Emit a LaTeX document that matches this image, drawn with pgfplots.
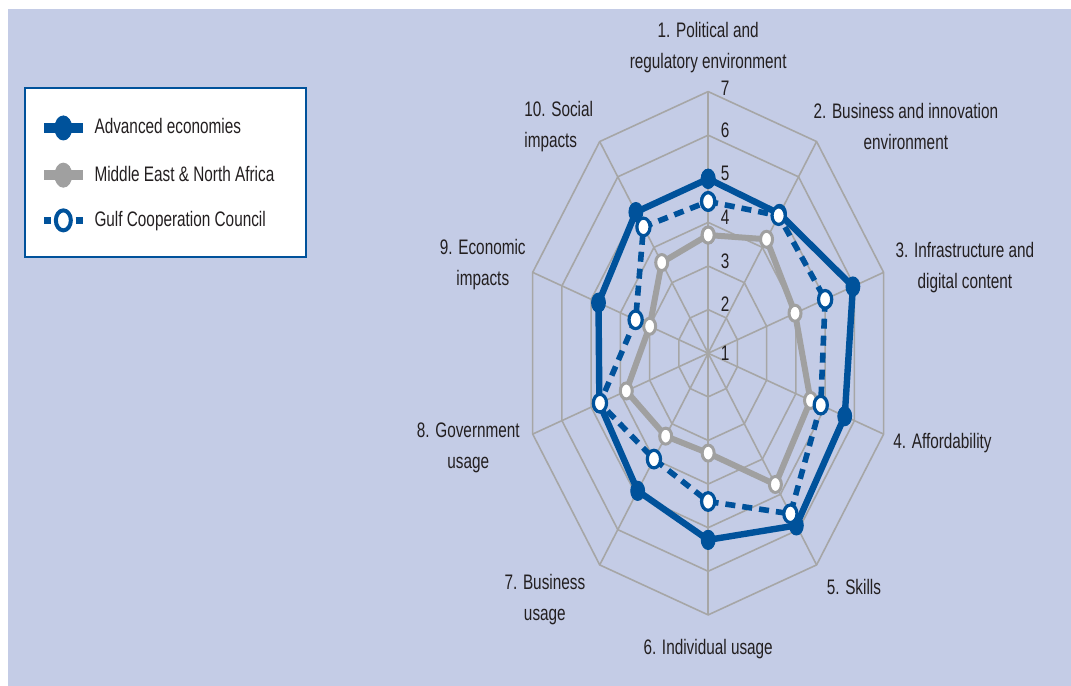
\documentclass[border=0pt]{standalone}
\usepackage{fontspec}
\setmainfont{Liberation Sans}[FakeStretch=0.73]
\usepackage{pgfplots}
\usepackage{pgfplotstable}
\pgfplotsset{compat=1.18}
\definecolor{bgblue}{RGB}{196,204,230}
\definecolor{aeblue}{RGB}{0,82,155}
\definecolor{menagray}{RGB}{160,160,160}
\definecolor{gridgray}{RGB}{166,166,166}
\definecolor{txt}{RGB}{35,31,32}

% angle (deg), scores on the 1-7 scale
\pgfplotstableread{
ang ae mena gcc
90 5.00 3.71 4.48
54 4.95 4.23 4.90
18 5.95 3.97 5.00
-18 5.67 4.50 4.85
-54 5.88 4.72 5.55
-90 5.28 3.29 4.40
-126 4.90 3.35 4.00
-162 4.72 3.80 4.70
-198 4.75 3.00 3.48
-234 5.00 3.57 4.58
-270 5.00 3.71 4.48
}\scores

\newcommand{\lbl}{\fontsize{10.5}{15.5}\selectfont}

\begin{document}
\begin{tikzpicture}
\begin{axis}[
  scale only axis, width=535.5pt, height=343pt,
  xmin=-23.03, xmax=11.80, ymin=-7.63, ymax=8.10,
  hide axis, clip=false,
  legend cell align=left,
  legend image code/.code={\draw[mark repeat=2,mark phase=2,#1] plot coordinates {(0pt,0pt)(9.6pt,0pt)(19.2pt,0pt)};},
  legend style={at={(axis cs:-21.77,5.45)}, anchor=north west, draw=none, fill=none,
    inner sep=0pt, row sep=11.6pt, font=\lbl, text=txt,
    nodes={inner sep=0pt},
    /tikz/every odd column/.append style={column sep=3.5pt},
    /tikz/every even column/.append style={text height=7.5pt, text depth=6.5pt}},
]
\fill[white] (rel axis cs:0,0) rectangle (rel axis cs:1,1);
\fill[bgblue] (rel axis cs:0.00747,0) rectangle (rel axis cs:1,0.98688);
\draw[aeblue, line width=1.3pt, fill=white] (axis cs:-22.22,6.085) rectangle (axis cs:-13.08,2.21);

% grid
\pgfplotsinvokeforeach{1,2,3,4,5,6}{
  \addplot[gridgray, line width=0.8pt, data cs=polar, forget plot] coordinates {(90,#1)(54,#1)(18,#1)(-18,#1)(-54,#1)(-90,#1)(-126,#1)(-162,#1)(-198,#1)(-234,#1)(-270,#1)};
}
\pgfplotsinvokeforeach{90,54,18,-18,-54,-90,-126,-162,-198,-234}{
  \addplot[gridgray, line width=0.8pt, data cs=polar, forget plot] coordinates {(#1,0)(#1,6)};
}

% series
\addplot[menagray, line width=3pt, data cs=polar, forget plot, mark=*, mark size=4pt,
  mark options={fill=white, draw=menagray, line width=1.5pt, xscale=0.75}]
  table[x=ang, y expr=\thisrow{mena}-1]{\scores};
\addplot[aeblue, line width=3.2pt, data cs=polar, forget plot, mark=*, mark size=4.8pt,
  mark options={fill=aeblue, draw=aeblue, line width=0.5pt, xscale=0.72}]
  table[x=ang, y expr=\thisrow{ae}-1]{\scores};
\addplot[aeblue, line width=2.8pt, dash pattern=on 5pt off 3.5pt, data cs=polar, forget plot, mark=*, mark size=4.4pt,
  mark options={fill=white, draw=aeblue, line width=1.6pt, solid, xscale=0.75}]
  table[x=ang, y expr=\thisrow{gcc}-1]{\scores};

% legend
\addlegendimage{aeblue, line width=5pt, mark=*, mark size=6pt, mark options={fill=aeblue, draw=aeblue, line width=0.5pt, xscale=0.7}}
\addlegendentry{Advanced economies}
\addlegendimage{menagray, line width=5pt, mark=*, mark size=6pt, mark options={fill=menagray, draw=menagray, line width=0.5pt, xscale=0.7}}
\addlegendentry{Middle East \& North Africa}
\addlegendimage{aeblue, line width=3.8pt, dash pattern=on 3.5pt off 12.2pt, mark=*, mark size=5pt, mark options={fill=white, draw=aeblue, line width=2pt, solid, xscale=0.75}}
\addlegendentry{Gulf Cooperation Council}

% scale numbers
\node[anchor=base west, inner sep=0pt, font=\lbl, text=txt] at (axis cs:0.40,-0.16) {1};
\node[anchor=base west, inner sep=0pt, font=\lbl, text=txt] at (axis cs:0.40,0.95) {2};
\node[anchor=base west, inner sep=0pt, font=\lbl, text=txt] at (axis cs:0.40,1.95) {3};
\node[anchor=base west, inner sep=0pt, font=\lbl, text=txt] at (axis cs:0.40,2.95) {4};
\node[anchor=base west, inner sep=0pt, font=\lbl, text=txt] at (axis cs:0.40,3.95) {5};
\node[anchor=base west, inner sep=0pt, font=\lbl, text=txt] at (axis cs:0.40,4.95) {6};
\node[anchor=base west, inner sep=0pt, font=\lbl, text=txt] at (axis cs:0.40,5.90) {7};

% dimension labels
\node[align=center, inner sep=0pt, font=\lbl, text=txt] at (axis cs:0.0,7.02) {1. Political and\\regulatory environment};
\node[align=center, inner sep=0pt, font=\lbl, text=txt] at (axis cs:6.43,5.21) {2. Business and innovation\\environment};
\node[align=center, inner sep=0pt, font=\lbl, text=txt] at (axis cs:8.35,1.97) {3. Infrastructure and\\digital content};
\node[align=center, inner sep=0pt, font=\lbl, text=txt] at (axis cs:7.62,-2.05) {4. Affordability};
\node[align=center, inner sep=0pt, font=\lbl, text=txt] at (axis cs:4.74,-5.36) {5. Skills};
\node[align=center, inner sep=0pt, font=\lbl, text=txt] at (axis cs:0.0,-6.78) {6. Individual usage};
\node[align=center, inner sep=0pt, font=\lbl, text=txt] at (axis cs:-5.31,-5.66) {7. Business\\usage};
\node[align=center, inner sep=0pt, font=\lbl, text=txt] at (axis cs:-7.80,-2.18) {8. Government\\usage};
\node[align=center, inner sep=0pt, font=\lbl, text=txt] at (axis cs:-7.33,2.03) {9. Economic\\impacts};
\node[align=left, inner sep=0pt, font=\lbl, text=txt] at (axis cs:-4.86,5.20) {10. Social\\impacts};
\end{axis}
\end{tikzpicture}
\end{document}
